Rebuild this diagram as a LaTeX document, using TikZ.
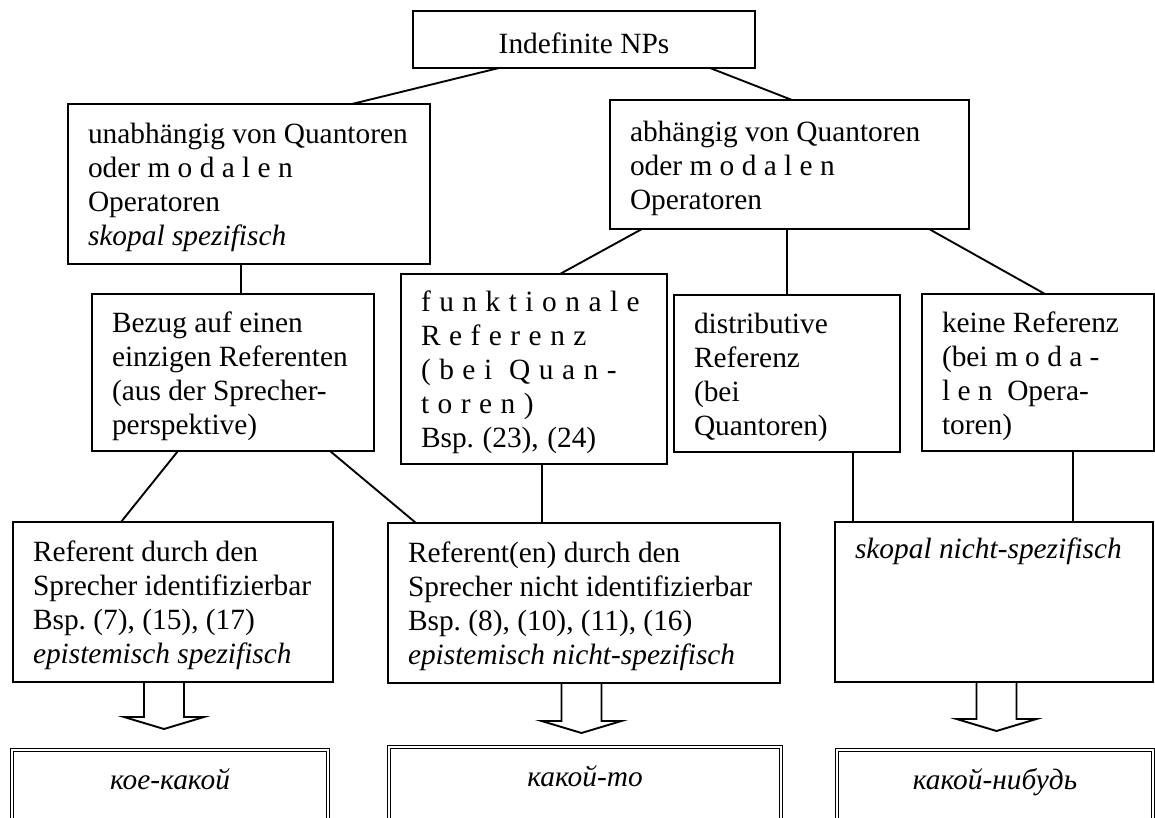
\documentclass[tikz,border=0pt]{standalone}
\usepackage{fontspec}
\setmainfont{Liberation Serif}
\usepackage{tikz}
\frenchspacing

\begin{document}
\begin{tikzpicture}[x=0.4pt,y=-0.4pt,
		every node/.style={font=\fontsize{11.75}{13.6}\selectfont},
		box/.style={draw,line width=0.75pt,anchor=north west,align=left,inner xsep=8pt,inner ysep=0pt,outer sep=0pt,
			execute at begin node={\spaceskip=0pt\xspaceskip=0pt\hyphenpenalty=10000\exhyphenpenalty=10000\rule{0pt}{11pt}}},
		dbox/.style={draw,double,double distance=0.6pt,line width=0.45pt,anchor=north,outer sep=0pt,inner ysep=0pt,text height=16pt,text depth=24pt},
		link/.style={line width=0.75pt}]
		\useasboundingbox (0,0) rectangle (1155,818);
		\clip (0,0) rectangle (1155,818);

		\node (top) at (413,11) [box,minimum width=136.8pt,minimum height=22.8pt] {Indefinite NPs};
		\node (unab) at (68,104) [box,text width=128.8pt,minimum height=64pt] {unabhängig von Quantoren\\ oder m o d a l e n\\ Operatoren\\ \textit{skopal spezifisch}};
		\node (abh) at (610,100) [box,text width=127.6pt,minimum height=51.6pt] {abhängig von Quantoren\\ oder m o d a l e n\\ Operatoren};
		\node (bezug) at (92,294) [box,text width=96.8pt,minimum height=62.8pt] {Bezug auf einen\\ einzigen Referenten\\ (aus der Sprecher-\\ perspektive)};
		\node (funkt) at (401,274) [box,text width=90.4pt,minimum height=76pt] {\spaceskip=3.4pt f u n k t i o n a l e\\ R e f e r e n z\\ ( b e i~ Q u a n -\\ t o r e n )\\ Bsp. (23), (24)};
		\node (distr) at (674,295) [box,text width=74.4pt,minimum height=62.8pt] {distributive\\ Referenz\\ (bei\\ Quantoren)};
		\node (keine) at (922,294) [box,text width=76.8pt,minimum height=62.8pt] {keine Referenz\\ (bei m o d a -\\ l e n~ Opera-\\ toren)};
		\node (ref1) at (13,522) [box,text width=112pt,minimum height=64pt] {Referent durch den\\ Sprecher identifizierbar\\ Bsp. (7), (15), (17)\\ \textit{epistemisch spezifisch}};
		\node (ref2) at (388,523) [box,text width=140.8pt,minimum height=64pt] {Referent(en) durch den\\ Sprecher nicht identifizierbar\\ Bsp. (8), (10), (11), (16)\\ \textit{epistemisch nicht-spezifisch}};
		\node (skop) at (835,522) [box,text width=111.2pt,minimum height=64pt] {\textit{skopal nicht-spezifisch}\\ \mbox{}\\ \mbox{}\\ \rule[-5pt]{0pt}{0pt}};

		\node (koe) at (170,750) [dbox,minimum width=126.4pt] {\textit{кое-какой}};
		\node (kakto) at (585,747) [dbox,minimum width=156.8pt] {\textit{какой-то}};
		\node (kaknib) at (995,750) [dbox,minimum width=126.4pt] {\textit{какой-нибудь}};

		\draw[link] ([xshift=-34pt]top.south) -- ([xshift=41.2pt]unab.north);
		\draw[link] ([xshift=50.4pt]top.south) -- ([xshift=1pt]abh.north);
		\draw[link] ([xshift=3.2pt]bezug.north) -- ([xshift=3.2pt]bezug.north |- unab.south);
		\draw[link] ([xshift=-59pt]abh.south) -- ([xshift=10.4pt]funkt.north);
		\draw[link] (distr.north) -- (distr.north |- abh.south);
		\draw[link] ([xshift=55.8pt]abh.south) -- ([xshift=2.8pt]keine.north);
		\draw[link] ([xshift=-22pt]bezug.south) -- ([xshift=-20.8pt]ref1.north);
		\draw[link] ([xshift=38.8pt]bezug.south) -- ([xshift=-67.2pt]ref2.north);
		\draw[link] ([xshift=-16.8pt]ref2.north) -- ([xshift=-16.8pt]ref2.north |- funkt.south);
		\draw[link] ([xshift=-56.4pt]skop.north) -- ([xshift=-56.4pt]skop.north |- distr.south);
		\draw[link] ([xshift=31.6pt]skop.north) -- ([xshift=31.6pt]skop.north |- keine.south);

		\draw[link] ([xshift=-3.6pt]ref1.south) ++(-20,0) -- ++(0,35) -- ++(-20,0) -- ++(40,12) -- ++(40,-12) -- ++(-20,0) -- ++(0,-35);
		\draw[link] ([xshift=-1pt]ref2.south) ++(-20,0) -- ++(0,38) -- ++(-20,0) -- ++(40,12) -- ++(40,-12) -- ++(-20,0) -- ++(0,-38);
		\draw[link] ([xshift=1pt]skop.south) ++(-20,0) -- ++(0,37) -- ++(-20,0) -- ++(40,12) -- ++(40,-12) -- ++(-20,0) -- ++(0,-37);

\end{tikzpicture}
\end{document}
